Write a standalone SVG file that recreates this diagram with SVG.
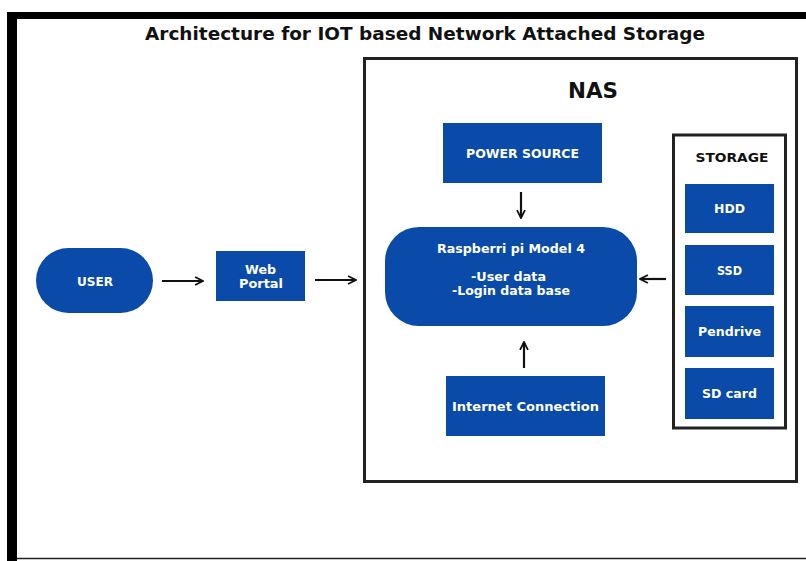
<svg xmlns="http://www.w3.org/2000/svg" width="806" height="561" viewBox="0 0 806 561">
<style>
.t{font-family:"DejaVu Sans","Open Sans",sans-serif;font-weight:bold;text-anchor:middle;dominant-baseline:central}
.w{fill:#ffffff;font-size:12.5px}
.k{fill:#111111}
.b{fill:#0a4aa8}
.c{stroke:#111111;stroke-width:2.2;fill:none;marker-end:url(#ah)}
</style>
<defs>
<marker id="ah" viewBox="0 0 10 10" refX="9" refY="5" markerWidth="4.5" markerHeight="4.5" orient="auto" markerUnits="strokeWidth">
<path d="M1,1 L9,5 L1,9" fill="none" stroke="#111111" stroke-width="1.8"/>
</marker>
</defs>
<rect width="806" height="561" fill="#ffffff"/>
<g id="frame">
<rect x="7" y="12" width="799" height="7" fill="#000000"/>
<rect x="7" y="12" width="10" height="549" fill="#000000"/>
<line x1="17" y1="558.5" x2="806" y2="558.5" stroke="#222222" stroke-width="1.5"/>
</g>
<text class="t k" x="425" y="33" font-size="18.5" textLength="560" lengthAdjust="spacingAndGlyphs">Architecture for IOT based Network Attached Storage</text>
<g id="nas">
<rect x="364.5" y="58.5" width="432" height="423" fill="none" stroke="#222222" stroke-width="3"/>
<text class="t k" x="593" y="91" font-size="20.5" textLength="50" lengthAdjust="spacingAndGlyphs">NAS</text>
</g>
<g id="storage">
<rect x="673.5" y="135" width="112" height="293" fill="none" stroke="#222222" stroke-width="3"/>
<text class="t k" x="732" y="157" font-size="12.5" textLength="73" lengthAdjust="spacingAndGlyphs">STORAGE</text>
</g>
<g id="hdd"><rect class="b" x="685" y="184" width="89" height="49"/><text class="t w" x="729.5" y="208.5" textLength="31" lengthAdjust="spacingAndGlyphs">HDD</text></g>
<g id="ssd"><rect class="b" x="685" y="245" width="89" height="50"/><text class="t w" x="729.5" y="270" textLength="25" lengthAdjust="spacingAndGlyphs">SSD</text></g>
<g id="pendrive"><rect class="b" x="685" y="306" width="89" height="51"/><text class="t w" x="729.5" y="331" textLength="63" lengthAdjust="spacingAndGlyphs">Pendrive</text></g>
<g id="sdcard"><rect class="b" x="685" y="368" width="89" height="51"/><text class="t w" x="729.5" y="393" textLength="55" lengthAdjust="spacingAndGlyphs">SD card</text></g>
<g id="power"><rect class="b" x="443" y="123" width="159" height="60"/><text class="t w" x="522.5" y="153" textLength="113" lengthAdjust="spacingAndGlyphs">POWER SOURCE</text></g>
<g id="raspberry">
<rect class="b" x="385" y="227" width="252" height="99" rx="34" ry="34"/>
<text class="t w" x="511" y="248" textLength="148" lengthAdjust="spacingAndGlyphs">Raspberri pi Model 4</text>
<text class="t w" x="508.5" y="276" font-size="12" textLength="75" lengthAdjust="spacingAndGlyphs">-User data</text>
<text class="t w" x="511" y="290" font-size="12" textLength="118" lengthAdjust="spacingAndGlyphs">-Login data base</text>
</g>
<g id="internet"><rect class="b" x="446" y="376" width="159" height="60"/><text class="t w" x="525.5" y="406" textLength="147" lengthAdjust="spacingAndGlyphs">Internet Connection</text></g>
<g id="user"><rect class="b" x="36" y="248" width="117" height="65" rx="32.5" ry="32.5"/><text class="t w" x="95" y="281" textLength="36" lengthAdjust="spacingAndGlyphs">USER</text></g>
<g id="webportal"><rect class="b" x="216" y="251" width="89" height="50"/><text class="t w" x="260.5" y="269" font-size="12" textLength="31" lengthAdjust="spacingAndGlyphs">Web</text><text class="t w" x="261" y="283.5" font-size="12" textLength="44" lengthAdjust="spacingAndGlyphs">Portal</text></g>
<g id="connectors">
<line class="c" x1="162" y1="281" x2="203" y2="281"/>
<line class="c" x1="315" y1="280" x2="356" y2="280"/>
<line class="c" x1="521" y1="192" x2="521" y2="218"/>
<line class="c" x1="666" y1="279" x2="640" y2="279"/>
<line class="c" x1="524" y1="368" x2="524" y2="342"/>
</g>
</svg>
